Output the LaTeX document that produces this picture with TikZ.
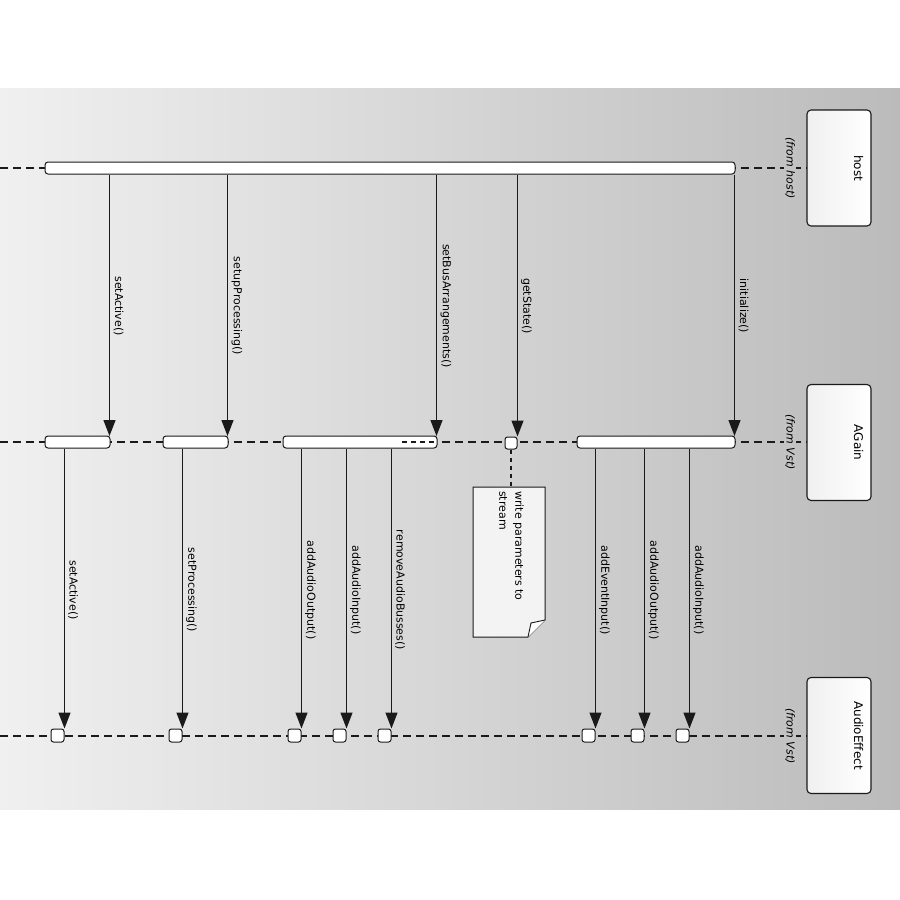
\documentclass[tikz,border=0pt]{standalone}
\usepackage{fontspec}
\setmainfont{DejaVu Sans}
\usetikzlibrary{arrows.meta}
\definecolor{bgL}{HTML}{F0F0F0}
\definecolor{bgR}{HTML}{BBBBBB}
\definecolor{ink}{HTML}{1A1A1A}
\definecolor{fromfill}{HTML}{C3C3C3}
\definecolor{notefill}{HTML}{F3F3F3}
\begin{document}
\begin{tikzpicture}[x=1pt,y=-1pt,
  lifeline/.style={draw=ink, line width=1.2pt, dash pattern=on 8pt off 5pt},
  actbar/.style={draw=ink, fill=white, rounded corners=3pt, line width=1pt, minimum height=12pt, inner sep=0pt},
  tgtbox/.style={draw=ink, fill=white, rounded corners=2.5pt, line width=1pt, minimum size=13pt, inner sep=0pt},
  msg/.style={draw=ink, line width=1.3pt, -{Triangle[length=16pt,width=12pt]}},
  lbl/.style={rotate=-90, anchor=south, inner sep=0pt, font=\fontsize{11}{13}\selectfont},
  header/.style={draw=ink, rounded corners=4pt, left color=bgL, right color=white, minimum width=64pt, minimum height=116pt, line width=1.1pt, inner sep=0pt},
  hname/.style={rotate=-90, inner sep=0pt, font=\fontsize{12}{14}\selectfont},
  fromlbl/.style={rotate=-90, fill=fromfill, inner sep=1.5pt, font=\fontsize{11}{13}\selectfont\itshape},
  notebox/.style={draw=ink, fill=notefill, line width=1pt, line join=miter}
]
\useasboundingbox (0,0) rectangle (900,900);
\fill[white] (0,0) rectangle (900,900);
\shade[left color=bgL, right color=bgR] (0,88) rectangle (900,809);

% headers
\node[header] (hostH) at (839,168) {};
\node[header] (againH) at (839,442.5) {};
\node[header] (aeH) at (839,735.5) {};
\node[hname] (hostN) at (858.5,168) {host};
\node[hname] (againN) at (858.5,442.5) {AGain};
\node[hname] (aeN) at (858.5,735.5) {AudioEffect};

% lifelines
\coordinate (l1) at (0,168);
\coordinate (l2) at (0,442);
\coordinate (l3) at (0,736);
\draw[lifeline] (l1) -- (l1 -| hostH.west);
\draw[lifeline] (l2) -- (l2 -| againH.west);
\draw[lifeline] (l3) -- (l3 -| aeH.west);

\node[fromlbl] (hostF) at (790,168) {(from host)};
\node[fromlbl] (againF) at (790,442) {(from Vst)};
\node[fromlbl] (aeF) at (790,736) {(from Vst)};

% activation bars
\node[actbar, minimum width=690pt] (hb) at (390,168) {};
\node[actbar, minimum width=65pt] (a1) at (77.5,442) {};
\node[actbar, minimum width=65pt] (a2) at (195.5,442) {};
\node[actbar, minimum width=154pt] (a3) at (360,442) {};
\node[actbar, minimum width=158pt] (a4) at (656,442) {};
\coordinate (d1) at (402,442);
\coordinate (d2) at (434,442);
\draw[ink, line width=1.1pt, dash pattern=on 5pt off 4pt] (d1) -- (d2);
\node[tgtbox, minimum size=12pt] (gs) at (511,443) {};

% target boxes on AudioEffect
\node[tgtbox] (e1) at (57.5,735.5) {};
\node[tgtbox] (e2) at (175.5,735.5) {};
\node[tgtbox] (e3) at (294.5,735.5) {};
\node[tgtbox] (e4) at (339.5,735.5) {};
\node[tgtbox] (e5) at (384.5,735.5) {};
\node[tgtbox] (e6) at (588.5,735.5) {};
\node[tgtbox] (e7) at (637.5,735.5) {};
\node[tgtbox] (e8) at (682.5,735.5) {};

% upper messages
\coordinate (u1) at (109.5,436);
\coordinate (u2) at (227.5,436);
\coordinate (u3) at (436.5,436);
\coordinate (u5) at (734.5,436);
\draw[msg] (hb.south -| u1) -- (u1);
\draw[msg] (hb.south -| u2) -- (u2);
\draw[msg] (hb.south -| u3) -- (u3);
\draw[msg] (hb.south -| gs.east) -- (gs.north east);
\draw[msg] (hb.south -| u5) -- (u5);
\node[lbl] (t1) at (113.5,306) {setActive()};
\node[lbl] (t2) at (231.5,306) {setupProcessing()};
\node[lbl] (t3) at (440.5,306) {setBusArrangements()};
\node[lbl] (t4) at (521,306) {getState()};
\node[lbl] (t5) at (738.5,306) {initialize()};

% lower messages
\draw[msg] (a1.south -| e1.east) -- (e1.north east);
\draw[msg] (a2.south -| e2.east) -- (e2.north east);
\draw[msg] (a3.south -| e3.east) -- (e3.north east);
\draw[msg] (a3.south -| e4.east) -- (e4.north east);
\draw[msg] (a3.south -| e5.east) -- (e5.north east);
\draw[msg] (a4.south -| e6.east) -- (e6.north east);
\draw[msg] (a4.south -| e7.east) -- (e7.north east);
\draw[msg] (a4.south -| e8.east) -- (e8.north east);
\node[lbl] (b1) at (68,590) {setActive()};
\node[lbl] (b2) at (186,590) {setProcessing()};
\node[lbl] (b3) at (305,590) {addAudioOutput()};
\node[lbl] (b4) at (350,590) {addAudioInput()};
\node[lbl] (b5) at (395,590) {removeAudioBusses()};
\node[lbl] (b6) at (599,590) {addEventInput()};
\node[lbl] (b7) at (648,590) {addAudioOutput()};
\node[lbl] (b8) at (693,590) {addAudioInput()};

% note
\coordinate (n1) at (473,487);
\coordinate (n2) at (545,487);
\coordinate (n3) at (545,620);
\coordinate (n4) at (528,637);
\coordinate (n5) at (473,637);
\coordinate (nf) at (531,623);
\coordinate (ntop) at (511,487);
\draw[notebox] (n1) -- (n2) -- (n3) -- (n4) -- (n5) -- cycle;
\draw[ink, line width=0.9pt, fill=white] (n3) -- (nf) -- (n4);
\draw[ink, line width=1.1pt, dash pattern=on 4pt off 4pt] (gs.south) -- (ntop);
\node[rotate=-90, anchor=north west, inner sep=0pt, align=left,
      font=\fontsize{11}{16}\selectfont] (notetext) at (524,491) {write parameters to\\stream};
\end{tikzpicture}
\end{document}
